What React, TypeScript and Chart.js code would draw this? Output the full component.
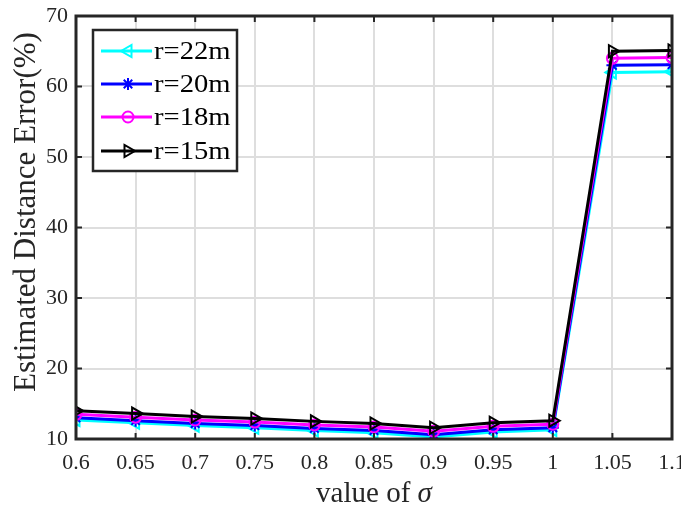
import React, { useEffect, useRef } from "react";
import { Chart, registerables } from "chart.js";
import { drawPoint } from "chart.js/helpers";

Chart.register(...registerables);

const sigma = [0.6, 0.65, 0.7, 0.75, 0.8, 0.85, 0.9, 0.95, 1.0, 1.05, 1.1];
const xTickLabels = ["0.6", "0.65", "0.7", "0.75", "0.8", "0.85", "0.9", "0.95", "1", "1.05", "1.1"];
const yTicks = [10, 20, 30, 40, 50, 60, 70];

const r22 = [12.7, 12.3, 11.9, 11.6, 11.2, 10.9, 10.3, 11.0, 11.3, 62.0, 62.1];
const r20 = [13.0, 12.6, 12.2, 11.9, 11.5, 11.2, 10.6, 11.3, 11.6, 63.0, 63.1];
const r18 = [13.5, 13.1, 12.7, 12.4, 12.0, 11.7, 11.1, 11.8, 12.1, 64.0, 64.1];
const r15 = [14.0, 13.6, 13.2, 12.9, 12.5, 12.2, 11.6, 12.3, 12.6, 65.0, 65.1];

const seriesNames = ["r=22m", "r=20m", "r=18m", "r=15m"];
const seriesColors = ["#00ffff", "#0000ff", "#ff00ff", "#000000"];
const seriesStyles = ["triangle", "star", "circle", "triangle"];
const seriesRot = [-90, 0, 0, 90];
const seriesRadius = [7, 6, 5.5, 7];
const seriesValues = [r22, r20, r18, r15];

const FONT = "'Liberation Serif', 'DejaVu Serif', serif";

const framePlugin = {
  id: "frame",
  afterDraw(chart: any) {
    const { ctx, chartArea } = chart;
    const { left, right, top, bottom } = chartArea;
    const xs = chart.scales.x;
    const ys = chart.scales.y;
    ctx.save();
    ctx.strokeStyle = "#262626";
    ctx.lineWidth = 2;
    const tl = 6;
    ctx.beginPath();
    for (const v of sigma) {
      const px = xs.getPixelForValue(v);
      ctx.moveTo(px, bottom);
      ctx.lineTo(px, bottom - tl);
      ctx.moveTo(px, top);
      ctx.lineTo(px, top + tl);
    }
    for (const v of yTicks) {
      const py = ys.getPixelForValue(v);
      ctx.moveTo(left, py);
      ctx.lineTo(left + tl, py);
      ctx.moveTo(right, py);
      ctx.lineTo(right - tl, py);
    }
    ctx.stroke();
    ctx.lineWidth = 3;
    ctx.strokeRect(left, top, right - left, bottom - top);

    // legend
    const bx = 93, by = 30, bw = 144, bh = 141;
    ctx.fillStyle = "#ffffff";
    ctx.fillRect(bx, by, bw, bh);
    ctx.strokeStyle = "#262626";
    ctx.lineWidth = 2.5;
    ctx.strokeRect(bx, by, bw, bh);
    const rows = [51, 84, 117, 151];
    ctx.textBaseline = "middle";
    ctx.textAlign = "left";
    for (let i = 0; i < 4; i++) {
      const y = rows[i];
      ctx.strokeStyle = seriesColors[i];
      ctx.lineWidth = 3;
      ctx.beginPath();
      ctx.moveTo(101, y);
      ctx.lineTo(152, y);
      ctx.stroke();
      ctx.fillStyle = "rgba(0,0,0,0)";
      ctx.lineWidth = 2;
      drawPoint(ctx, { pointStyle: seriesStyles[i], rotation: seriesRot[i], radius: seriesRadius[i], borderWidth: 2 } as any, 128, y);
      ctx.save();
      ctx.fillStyle = "#000000";
      ctx.font = `26px ${FONT}`;
      ctx.translate(154, y + 1);
      ctx.scale(1.1, 1);
      ctx.fillText(seriesNames[i], 0, 0);
      ctx.restore();
    }

    // x title
    ctx.fillStyle = "#262626";
    ctx.textBaseline = "alphabetic";
    ctx.textAlign = "left";
    const t1 = "value of ";
    ctx.font = `29px ${FONT}`;
    const w1 = ctx.measureText(t1).width;
    ctx.font = `italic 29px ${FONT}`;
    const w2 = ctx.measureText("σ").width;
    const cx = (left + right) / 2;
    const sx = cx - (w1 + w2) / 2;
    ctx.font = `29px ${FONT}`;
    ctx.fillText(t1, sx, 502);
    ctx.font = `italic 29px ${FONT}`;
    ctx.fillText("σ", sx + w1, 502);

    // y title
    ctx.save();
    ctx.translate(27, 212);
    ctx.rotate(-Math.PI / 2);
    ctx.textAlign = "center";
    ctx.textBaseline = "middle";
    ctx.font = `31px ${FONT}`;
    ctx.fillText("Estimated Distance Error(%)", 0, 0);
    ctx.restore();
    ctx.restore();
  },
};

export default function App() {
  const ref = useRef<HTMLCanvasElement>(null);
  useEffect(() => {
    document.body.style.margin = "0";
    const canvas = ref.current!;
    const datasets = [3, 2, 1, 0].map((i) => ({
      label: seriesNames[i],
      data: sigma.map((x, k) => ({ x, y: seriesValues[i][k] })),
      borderColor: seriesColors[i],
      backgroundColor: "rgba(0,0,0,0)",
      pointBackgroundColor: "rgba(0,0,0,0)",
      pointBorderColor: seriesColors[i],
      pointStyle: seriesStyles[i] as any,
      rotation: seriesRot[i],
      pointRadius: seriesRadius[i],
      pointBorderWidth: 2,
      borderWidth: 3,
      tension: 0,
    }));
    const chart = new Chart(canvas, {
      type: "line",
      data: { datasets },
      options: {
        responsive: false,
        animation: false,
        layout: { padding: { left: 0, top: 16, right: 9, bottom: 0 } },
        plugins: { legend: { display: false }, tooltip: { enabled: false } },
        scales: {
          x: {
            type: "linear",
            min: 0.6,
            max: 1.1,
            afterBuildTicks: (s: any) => {
              s.ticks = sigma.map((v) => ({ value: v }));
            },
            afterFit: (s: any) => {
              s.height = 67;
              s.paddingLeft = 0;
              s.paddingRight = 0;
            },
            ticks: {
              callback: (_v: any, i: number) => xTickLabels[i],
              font: { family: FONT, size: 22 },
              color: "#262626",
              padding: 11,
              maxRotation: 0,
              autoSkip: false,
            },
            grid: { color: "#dedede", lineWidth: 2, drawTicks: false },
            border: { display: false },
          },
          y: {
            type: "linear",
            min: 10,
            max: 70,
            afterBuildTicks: (s: any) => {
              s.ticks = yTicks.map((v) => ({ value: v }));
            },
            afterFit: (s: any) => {
              s.width = 76;
              s.paddingTop = 0;
              s.paddingBottom = 0;
            },
            ticks: {
              font: { family: FONT, size: 22 },
              color: "#262626",
              padding: 8,
            },
            grid: { color: "#dedede", lineWidth: 2, drawTicks: false },
            border: { display: false },
          },
        },
      },
      plugins: [framePlugin],
    });
    return () => chart.destroy();
  }, []);
  return (
    <div style={{ width: 681, height: 506, background: "#fff" }}>
      <canvas ref={ref} width={681} height={506} />
    </div>
  );
}
